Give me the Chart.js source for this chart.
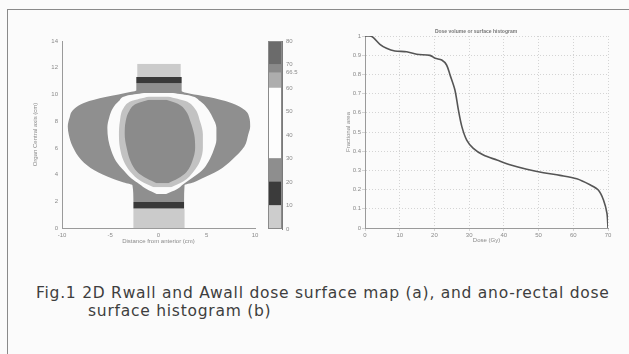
<!DOCTYPE html>
<html>
<head>
<meta charset="utf-8">
<script src="https://cdn.jsdelivr.net/npm/chart.js@4.4.1/dist/chart.umd.min.js"></script>
<style>
  html, body { margin: 0; padding: 0; background: #fbfbfb; }
  #page { position: relative; width: 629px; height: 354px; overflow: hidden; background: #fbfbfb; }
  #frame { position: absolute; left: 7px; top: 9px; width: 640px; height: 360px;
           border-left: 1px solid #8a8a8a; border-top: 1px solid #8a8a8a; }
  canvas { position: absolute; }
  #map { left: 30px; top: 30px; }
  #bar { left: 262px; top: 30px; }
  #dsh { left: 344px; top: 20px; }
  .cap { position: absolute; font-family: "DejaVu Sans", sans-serif; font-size: 15.5px; letter-spacing: 0.75px;
         color: #3e3e3e; white-space: nowrap; line-height: 18px; }
</style>
</head>
<body>
<div id="page">
  <div id="frame"></div>
  <canvas id="map" width="235" height="215"></canvas>
  <canvas id="bar" width="45" height="210"></canvas>
  <canvas id="dsh" width="276" height="224"></canvas>
  <div class="cap" style="left:36px; top:284px;">Fig.1 2D Rwall and Awall dose surface map (a), and ano-rectal dose</div>
  <div class="cap" style="left:88px; top:302px;">surface histogram (b)</div>
</div>
<script>
// ---- (a) dose surface map: iso-dose regions as left/right edges per height (cm)
const lowLightY = [0, 1.45];
const lowLightL = [-2.6, -2.6];
const lowLightR = [2.7, 2.7];

const lowDarkY = [1.45, 1.95];
const lowDarkL = [-2.6, -2.6];
const lowDarkR = [2.65, 2.65];

const bodyY = [1.95, 3.2, 3.4, 3.7, 4.3, 5.1, 6.1, 7.0, 7.6, 8.3, 8.8, 9.4, 9.8, 10.2, 10.3, 10.8];
const bodyL = [-2.6, -2.7, -3.6, -4.8, -6.6, -8.0, -8.9, -9.3, -9.4, -9.2, -8.9, -7.6, -5.5, -2.8, -2.3, -2.3];
const bodyR = [2.65, 2.7, 3.6, 4.5, 6.2, 7.6, 8.9, 9.3, 9.5, 9.4, 9.0, 7.4, 5.2, 2.5, 2.4, 2.4];

const topDarkY = [10.8, 11.3];
const topDarkL = [-2.3, -2.3];
const topDarkR = [2.4, 2.4];

const topLightY = [11.3, 12.3];
const topLightL = [-2.2, -2.2];
const topLightR = [2.3, 2.3];

const ringY = [2.55, 2.9, 3.3, 3.7, 4.3, 5.0, 5.8, 6.6, 7.5, 8.3, 9.0, 9.5, 9.9, 10.1];
const ringL = [-0.2, -1.2, -2.0, -2.8, -3.6, -4.4, -4.9, -5.2, -5.3, -5.1, -4.7, -4.1, -3.3, -1.5];
const ringR = [0.8, 1.9, 2.6, 3.4, 4.5, 5.2, 5.7, 6.0, 6.0, 5.6, 5.0, 4.3, 3.3, 1.5];

const bandY = [3.05, 3.5, 4.2, 5.0, 6.0, 7.0, 8.0, 9.0, 9.5, 9.85];
const bandL = [-0.5, -1.8, -2.9, -3.6, -4.0, -4.1, -4.0, -3.6, -2.8, -1.0];
const bandR = [1.3, 2.6, 3.6, 4.3, 4.6, 4.6, 4.3, 3.7, 2.8, 1.0];

const coreY = [3.35, 3.7, 4.2, 5.0, 6.0, 7.0, 8.0, 8.8, 9.3, 9.6];
const coreL = [-0.2, -1.2, -2.2, -2.9, -3.3, -3.5, -3.4, -3.0, -2.3, -1.0];
const coreR = [1.0, 2.0, 2.9, 3.5, 3.8, 3.7, 3.3, 2.8, 2.0, 0.8];

const mapXTicks = [-10, -5, 0, 5, 10];
const mapYTicks = [0, 2, 4, 6, 8, 10, 12, 14];

// ---- colour bar (Gy)
const levelFrom = [0, 10, 20, 30, 60, 66.5, 70];
const levelTo = [10, 20, 30, 60, 66.5, 70, 80];
const levelColors = ["#cdcdcd", "#3b3b3b", "#8e8e8e", "#fdfdfd", "#adadad", "#8a8a8a", "#6b6b6b"];
const barTicks = [0, 10, 20, 30, 40, 50, 60, 66.5, 70, 80];

// ---- (b) dose surface histogram
const dose = [0, 1.5, 2.5, 4.3, 6.2, 8.6, 12, 14.9, 18.7, 20.2, 22.1, 23.5, 24.5, 25.9, 26.9, 27.9, 29.3, 31.2, 34.1, 38, 42, 46.6, 51.4, 56.2, 61, 64.8, 67.2, 68.7, 69.7, 70];
const fraction = [1, 1, 0.99, 0.957, 0.936, 0.922, 0.918, 0.905, 0.899, 0.884, 0.875, 0.849, 0.797, 0.719, 0.615, 0.528, 0.458, 0.415, 0.38, 0.354, 0.328, 0.306, 0.288, 0.274, 0.256, 0.225, 0.198, 0.146, 0.076, 0];

const tickFont = { family: "Liberation Sans", size: 6 };
const tickColor = "#8a8a8a";

function edge(ys, xs) {
  return ys.map((y, i) => ({ x: xs[i], y: y }));
}

function region(ys, ls, rs, color, order) {
  const common = { borderWidth: 0, pointRadius: 0, order: order, cubicInterpolationMode: "monotone" };
  return [
    { ...common, data: edge(ys, ls), fill: "+1", backgroundColor: color },
    { ...common, data: edge(ys, rs), fill: false }
  ];
}

new Chart("map", {
  type: "line",
  data: {
    datasets: [
      ...region(coreY, coreL, coreR, "#8b8b8b", 1),
      ...region(bandY, bandL, bandR, "#c2c2c2", 2),
      ...region(ringY, ringL, ringR, "#fbfbfb", 3),
      ...region(lowLightY, lowLightL, lowLightR, "#cbcbcb", 4),
      ...region(lowDarkY, lowDarkL, lowDarkR, "#393939", 4),
      ...region(topDarkY, topDarkL, topDarkR, "#393939", 4),
      ...region(topLightY, topLightL, topLightR, "#cbcbcb", 4),
      ...region(bodyY, bodyL, bodyR, "#8f8f8f", 5)
    ]
  },
  options: {
    responsive: false,
    animation: false,
    indexAxis: "y",
    layout: { padding: { top: 11, right: 10, left: 0, bottom: 0 } },
    plugins: { legend: { display: false }, tooltip: { enabled: false } },
    scales: {
      x: {
        type: "linear", min: -10, max: 10,
        afterBuildTicks: (s) => { s.ticks = mapXTicks.map((v) => ({ value: v })); },
        afterFit: (s) => { s.height = 17; },
        grid: { display: false, drawTicks: true, tickLength: 3 },
        border: { color: "#9a9a9a" },
        ticks: { font: tickFont, color: tickColor, padding: 1, maxRotation: 0 },
        title: { display: true, text: "Distance from anterior (cm)", font: tickFont, color: tickColor, padding: 0 }
      },
      y: {
        type: "linear", min: 0, max: 14,
        afterBuildTicks: (s) => { s.ticks = mapYTicks.map((v) => ({ value: v })); },
        afterFit: (s) => { s.width = 32; },
        grid: { display: false, drawTicks: true, tickLength: 3 },
        border: { color: "#9a9a9a" },
        ticks: { font: tickFont, color: tickColor, padding: 1 },
        title: { display: true, text: "Organ Central axis (cm)", font: tickFont, color: tickColor, padding: 2 }
      }
    }
  }
});

new Chart("bar", {
  type: "bar",
  data: {
    labels: [""],
    datasets: levelFrom.map((v, i) => ({
      data: [levelTo[i] - v],
      backgroundColor: levelColors[i],
      borderWidth: 0,
      barPercentage: 1,
      categoryPercentage: 1
    }))
  },
  options: {
    responsive: false,
    animation: false,
    layout: { padding: { top: 11, left: 6, right: 0, bottom: 11 } },
    plugins: { legend: { display: false }, tooltip: { enabled: false } },
    scales: {
      x: { stacked: true, display: false },
      y: {
        stacked: true, position: "right", min: 0, max: 80,
        afterBuildTicks: (s) => { s.ticks = barTicks.map((v) => ({ value: v })); },
        afterFit: (s) => { s.width = 25; },
        grid: { display: false, drawTicks: true, tickLength: 3 },
        border: { color: "#7a7a7a" },
        ticks: { font: tickFont, color: tickColor, padding: 1 }
      }
    }
  },
  plugins: [{
    id: "barBox",
    afterDraw(chart) {
      const a = chart.chartArea, c = chart.ctx;
      c.save();
      c.strokeStyle = "#8a8a8a";
      c.lineWidth = 1;
      c.strokeRect(a.left + 0.5, a.top + 0.5, a.right - a.left - 1, a.bottom - a.top - 1);
      c.restore();
    }
  }]
});

new Chart("dsh", {
  type: "line",
  data: {
    datasets: [{
      data: dose.map((d, i) => ({ x: d, y: fraction[i] })),
      borderColor: "#555555",
      borderWidth: 1.6,
      pointRadius: 0,
      tension: 0.3,
      fill: false
    }]
  },
  options: {
    responsive: false,
    animation: false,
    layout: { padding: { top: 7, right: 12, left: 0, bottom: 0 } },
    plugins: {
      legend: { display: false },
      tooltip: { enabled: false },
      title: {
        display: true, text: "Dose volume or surface histogram",
        font: { family: "Liberation Sans", size: 5 }, color: "#777", padding: { top: 2, bottom: 1 }
      }
    },
    scales: {
      x: {
        type: "linear", min: 0, max: 70,
        ticks: { stepSize: 10, font: tickFont, color: tickColor, padding: 1, maxRotation: 0 },
        afterFit: (s) => { s.height = 16; },
        grid: { color: "#d4d4d4", tickLength: 3 },
        border: { color: "#9a9a9a", dash: [1, 2] },
        title: { display: true, text: "Dose (Gy)", font: tickFont, color: tickColor, padding: 0 }
      },
      y: {
        type: "linear", min: 0, max: 1,
        ticks: {
          stepSize: 0.1, font: tickFont, color: tickColor, padding: 1,
          callback: (v) => (v === 0 || v === 1 ? String(v) : v.toFixed(1))
        },
        afterFit: (s) => { s.width = 21; },
        grid: { color: "#d4d4d4", tickLength: 3 },
        border: { color: "#9a9a9a", dash: [1, 2] },
        title: { display: true, text: "Fractional area", font: tickFont, color: tickColor, padding: 1 }
      }
    }
  }
});
</script>
</body>
</html>
